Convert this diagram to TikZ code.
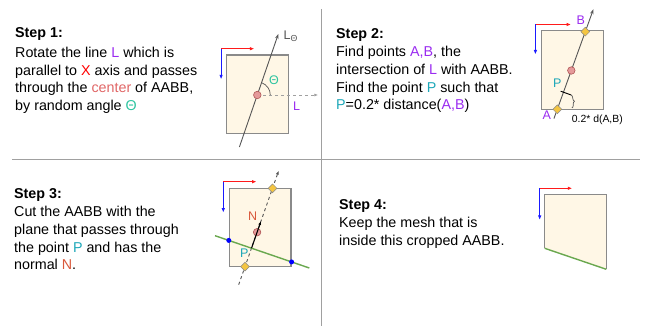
\documentclass[tikz,border=0pt]{standalone}
\usepackage{fontspec}
\setmainfont{Liberation Sans}
\usetikzlibrary{positioning,arrows.meta,calc,shapes.geometric,decorations.pathreplacing}
\definecolor{cream}{HTML}{FFF7E6}
\definecolor{boxgray}{HTML}{8A8A8A}
\definecolor{axisred}{HTML}{FF1A1A}
\definecolor{axisblue}{HTML}{1A1AFF}
\definecolor{purp}{HTML}{9A2BF0}
\definecolor{xred}{HTML}{FF0000}
\definecolor{ctrpink}{HTML}{E06666}
\definecolor{thetagreen}{HTML}{2EC4A0}
\definecolor{pteal}{HTML}{1CA7B8}
\definecolor{nred}{HTML}{D9583B}
\definecolor{planegreen}{HTML}{6AA84F}
\definecolor{cutblue}{HTML}{0000FF}
\definecolor{hityellow}{HTML}{F4C542}
\definecolor{dotfill}{HTML}{E59A9A}
\definecolor{dotborder}{HTML}{B05555}
\definecolor{divgray}{HTML}{A0A0A0}
\definecolor{raygray}{HTML}{555555}

\begin{document}
\begin{tikzpicture}[
    x=1pt, y=1pt,
    >=Latex,
    every node/.style={font=\fontsize{14.3}{17.7}\selectfont, inner sep=0pt},
    steptext/.style={anchor=base west, align=left},
    lbl/.style={font=\fontsize{12.5}{14}\selectfont},
    smalllbl/.style={font=\fontsize{10.4}{12}\selectfont},
    divider/.style={draw=divgray, line width=1.8pt},
    aabb/.style={draw=boxgray, fill=cream, line width=1.2pt, minimum width=61.6pt, minimum height=78.4pt},
    boxedge/.style={draw=boxgray, line width=1.2pt},
    xaxis/.style={-{Latex[length=4.5pt,width=3.5pt]}, axisred, line width=1.1pt},
    yaxis/.style={-{Latex[length=4.5pt,width=3.5pt]}, axisblue, line width=1.1pt},
    ray/.style={-{Stealth[length=5pt,width=3.5pt]}, raygray, line width=0.9pt},
    guide/.style={-{Latex[length=4pt,width=3pt]}, dashed, line width=0.9pt},
    normal/.style={-{Latex[length=4pt,width=3pt]}, black, line width=1.1pt},
    plane/.style={planegreen, line width=1.4pt},
    centre/.style={circle, draw=dotborder, fill=dotfill, minimum size=7.5pt, line width=0.6pt},
    hit/.style={diamond, draw=boxgray, fill=hityellow, minimum size=9pt, line width=0.5pt},
    cut/.style={circle, fill=cutblue, minimum size=5pt}
]
\useasboundingbox (0,0) rectangle (646,328);
\draw[divider] (12,168.5) -- (640,168.5);
\draw[divider] (321.5,319) -- (321.5,2);

\node[steptext] (txt1) at (15,217.3) {\textbf{Step 1:}\\[2pt]
  Rotate the line \textcolor{purp}{L} which is\\
  parallel to \textcolor{xred}{X} axis and passes\\
  through the \textcolor{ctrpink}{center} of AABB,\\
  by random angle \textcolor{thetagreen}{Θ}};
\node[aabb] (box1) at (257.5,233.8) {};
\coordinate (o1) at ($(box1.north west)+(-5,5.7)$);
\coordinate (ox1) at ($(o1)+(33.3,0)$);
\coordinate (oy1) at ($(o1)+(0,-30.7)$);
\draw[xaxis] (o1) -- (ox1);
\draw[yaxis] (o1) -- (oy1);
\coordinate (c1) at (257.3,233);
\coordinate (l1a) at ($(c1)+(251:55)$);
\coordinate (l1b) at ($(c1)+(71:64.5)$);
\coordinate (l1c) at (318.3,233);
\draw[guide, divgray] (c1) -- (l1c);
\draw[ray] (l1a) -- (l1b);
\draw[raygray, line width=0.7pt] ($(c1)+(13,0)$) arc[start angle=0, end angle=71, radius=13];
\node[centre] (ctr1) at (c1) {};
\node[lbl, text=thetagreen] (th1) at (274,247.3) {Θ};
\node[lbl, text=purp] (lab1) at (296.7,222) {L};
\node[lbl, anchor=west, text=raygray] (lt1) at (283.5,291.3) {L\textsubscript{Θ}};

\node[steptext] (txt2) at (336,218) {\textbf{Step 2:}\\[1pt]
  Find points \textcolor{purp}{A,B}, the\\
  intersection of \textcolor{purp}{L} with AABB.\\
  Find the point \textcolor{pteal}{P} such that\\
  \textcolor{pteal}{P}=0.2* distance(\textcolor{purp}{A,B})};
\node[aabb] (box2) at (572.5,258) {};
\coordinate (o2) at ($(box2.north west)+(-5.7,5.7)$);
\coordinate (ox2) at ($(o2)+(35.7,0)$);
\coordinate (oy2) at ($(o2)+(0,-30)$);
\draw[xaxis] (o2) -- (ox2);
\draw[yaxis] (o2) -- (oy2);
\coordinate (a2) at (557.3,218.7);
\coordinate (b2) at (585.3,296.3);
\coordinate (l2a) at ($(a2)!-0.12!(b2)$);
\coordinate (l2b) at ($(b2)!-0.29!(a2)$);
\coordinate (p2) at ($(a2)!0.22!(b2)$);
\coordinate (t2a) at ($(p2)+(160.2:3)$);
\coordinate (t2b) at ($(p2)+(-19.8:8)$);
\coordinate (br2) at (572,220);
\draw[ray] (l2a) -- (l2b);
\node[centre] (ctr2) at ($(a2)!0.5!(b2)$) {};
\node[hit] (ha2) at (a2) {};
\node[hit] (hb2) at (b2) {};
\draw[black, line width=0.9pt] (t2a) -- (t2b);
\draw[raygray, line width=0.7pt, decorate, decoration={brace, amplitude=3pt}] (t2b) -- (br2);
\node[lbl, text=purp] (la2) at (546.7,213) {A};
\node[lbl, text=purp] (lb2) at (580.7,307.3) {B};
\node[lbl, text=pteal] (lp2) at (557.3,244.7) {P};
\node[smalllbl, anchor=base west] (ld2) at (571.7,205.5) {0.2* d(A,B)};

\node[steptext] (txt3) at (14,58) {\textbf{Step 3:}\\[1pt]
  Cut the AABB with the\\
  plane that passes through\\
  the point \textcolor{pteal}{P} and has the\\
  normal \textcolor{nred}{N}.};
\node[aabb] (box3) at (260.2,100.5) {};
\coordinate (o3) at ($(box3.north west)+(-5.5,6)$);
\coordinate (ox3) at ($(o3)+(33.3,0)$);
\coordinate (oy3) at ($(o3)+(0,-31)$);
\draw[xaxis] (o3) -- (ox3);
\draw[yaxis] (o3) -- (oy3);
\coordinate (d3a) at (245,61.3);
\coordinate (d3b) at (272.5,139.7);
\coordinate (l3a) at ($(d3a)!-0.23!(d3b)$);
\coordinate (l3b) at ($(d3b)!-0.225!(d3a)$);
\coordinate (g3a) at (215,92.3);
\coordinate (g3b) at (309.3,60);
\coordinate (p3) at (intersection of d3a--d3b and g3a--g3b);
\coordinate (c3) at ($(d3a)!0.44!(d3b)$);
\coordinate (n3) at ($(p3)!1.7!(c3)$);
\coordinate (e3a) at (intersection of g3a--g3b and box3.north west--box3.south west);
\coordinate (e3b) at (intersection of g3a--g3b and box3.north east--box3.south east);
\draw[guide, raygray] (l3a) -- (l3b);
\draw[plane] (g3a) -- (g3b);
\node[centre] (ctr3) at (c3) {};
\draw[normal] (p3) -- (n3);
\node[hit] (ha3) at (d3a) {};
\node[hit] (hb3) at (d3b) {};
\node[cut] (ca3) at (e3a) {};
\node[cut] (cb3) at (e3b) {};
\node[lbl, text=nred] (ln3) at (252.7,111.3) {N};
\node[lbl, text=pteal] (lp3) at (244.3,74.7) {P};

\node[steptext] (txt4) at (339,82.3) {\textbf{Step 4:}\\[1pt]
  Keep the mesh that is\\
  inside this cropped AABB.};
\coordinate (q4a) at (544.7,79.7);
\coordinate (q4b) at (544.7,133.3);
\coordinate (q4c) at (606.3,133.3);
\coordinate (q4d) at (606.3,58.7);
\fill[cream] (q4a) -- (q4b) -- (q4c) -- (q4d) -- cycle;
\draw[boxedge] (q4a) -- (q4b) -- (q4c) -- (q4d);
\draw[plane] (q4a) -- (q4d);
\coordinate (o4) at ($(q4b)+(-5,6.4)$);
\coordinate (ox4) at ($(o4)+(32.6,0)$);
\coordinate (oy4) at ($(o4)+(0,-31.7)$);
\draw[xaxis] (o4) -- (ox4);
\draw[yaxis] (o4) -- (oy4);
\end{tikzpicture}
\end{document}
